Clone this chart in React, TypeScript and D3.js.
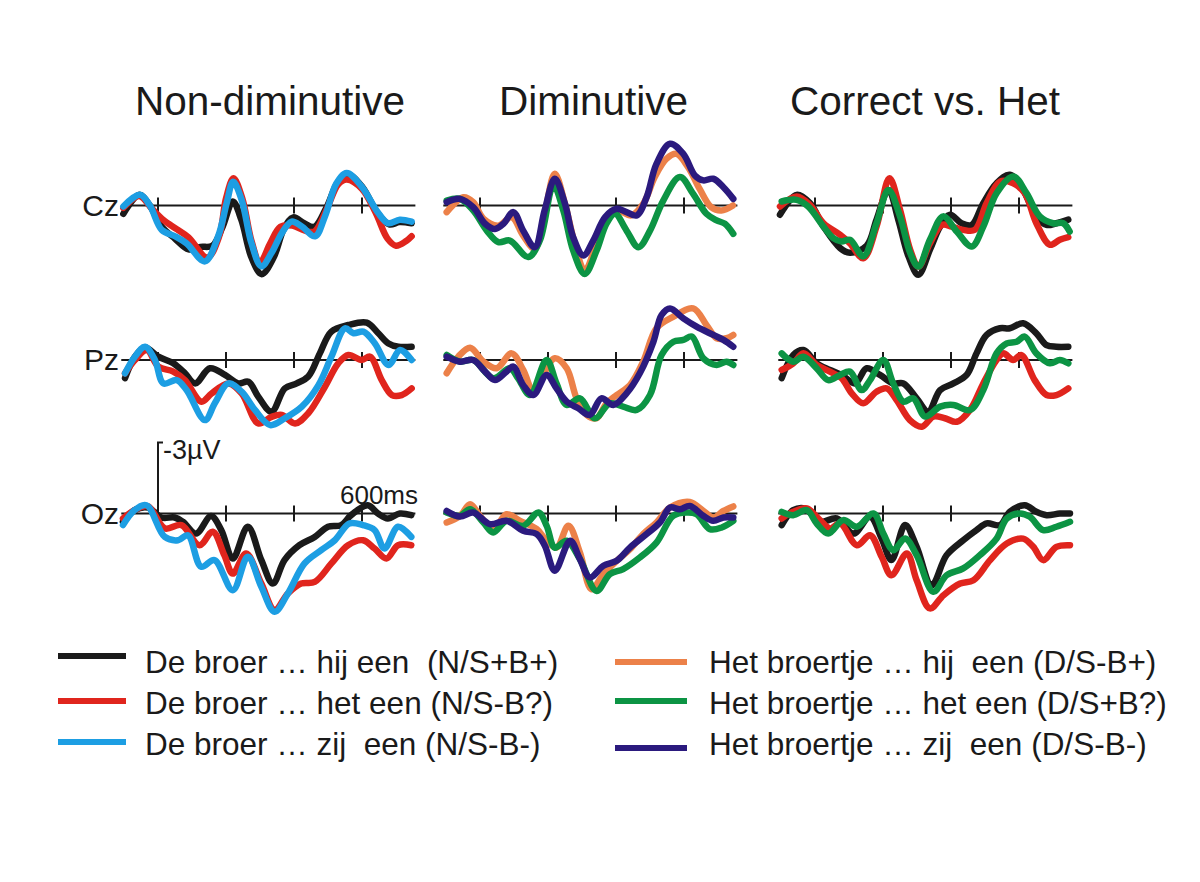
import React from "react";
import * as d3 from "d3";

type Pt = [number, number]; // [ms, µV]

// ---------- Titles / labels ----------
const COLUMN_TITLES = ["Non-diminutive", "Diminutive", "Correct vs. Het"];
const ELECTRODES = ["Cz", "Pz", "Oz"];
const TICKS_MS = [0, 200, 400, 600];

// ---------- Series ----------
const SERIES = [
  { key: "NSpBp", color: "#1a1a1a", label: "De broer … hij een  (N/S+B+)" },
  { key: "NSmBq", color: "#e0251d", label: "De broer … het een (N/S-B?)" },
  { key: "NSmBm", color: "#1d9ee3", label: "De broer … zij  een (N/S-B-)" },
  { key: "DSmBp", color: "#ec8149", label: "Het broertje … hij  een (D/S-B+)" },
  { key: "DSpBq", color: "#0c9444", label: "Het broertje … het een (D/S+B?)" },
  { key: "DSmBm", color: "#2b1a7e", label: "Het broertje … zij  een (D/S-B-)" },
];

// ---------- Non-diminutive column ----------
const ND_CZ_BLACK: Pt[] = [[-102,0.35],[-55,-0.45],[-24,0],[11,0.9],[50,1.4],[90,1.85],[125,1.75],[160,1.7],[190,0.9],[220,-0.17],[245,0.6],[275,2.2],[305,2.9],[340,2.2],[370,1.0],[398,0.5],[430,0.75],[460,0.9],[495,0.1],[530,-1.0],[560,-1.3],[600,-0.8],[645,0.3],[680,0.8],[710,0.7],[746,0.75]];
const ND_CZ_RED: Pt[] = [[-102,0.1],[-55,-0.4],[-20,0.1],[15,0.6],[55,1.0],[90,1.35],[145,2.2],[180,1.3],[200,-0.3],[222,-1.15],[248,-0.3],[275,1.5],[300,2.4],[330,1.6],[360,0.9],[395,0.85],[430,1.05],[460,1.1],[495,0.2],[530,-0.9],[555,-1.1],[600,-0.7],[640,0.3],[675,1.4],[700,1.7],[730,1.5],[746,1.3]];
const ND_CZ_BLUE: Pt[] = [[-102,0.04],[-53,-0.45],[-24,0],[11,1.03],[50,1.3],[84,1.6],[138,2.36],[177,1.3],[202,-0.1],[221,-1.0],[246,-0.24],[275,1.6],[304,2.57],[334,2.0],[364,1.17],[393,0.68],[423,0.89],[462,1.3],[491,0.46],[525,-0.94],[555,-1.37],[599,-0.8],[648,0.32],[677,0.75],[711,0.6],[746,0.68]];

const ND_PZ_BLACK: Pt[] = [[-97,0.77],[-68,-0.14],[-38,-0.53],[1,-0.14],[45,0.14],[79,0.56],[109,0.99],[153,0.35],[197,0.63],[236,0.99],[266,0.92],[295,1.55],[334,2.18],[373,1.2],[408,0.99],[442,0.7],[476,-0.28],[510,-1.2],[560,-1.48],[614,-1.58],[648,-1.13],[678,-0.7],[707,-0.56],[746,-0.56]];
const ND_PZ_RED: Pt[] = [[-97,0.56],[-68,0],[-33,-0.42],[1,0.28],[45,0.49],[79,0.85],[128,1.76],[158,1.41],[207,0.99],[246,1.41],[295,2.68],[334,2.4],[364,2.32],[403,2.68],[442,2.25],[491,1.13],[530,0.14],[560,-0.21],[599,0],[624,-0.14],[658,0.85],[688,1.48],[717,1.48],[746,1.2]];
const ND_PZ_BLUE: Pt[] = [[-97,0.56],[-68,-0.14],[-38,-0.56],[-9,0],[16,0.99],[55,0.85],[84,1.27],[138,2.54],[167,1.83],[207,0.99],[246,1.34],[285,2.11],[330,2.75],[373,2.46],[423,1.97],[472,1.06],[510,-0.14],[550,-1.34],[575,-1.13],[604,-1.2],[638,-0.7],[678,0.21],[712,-0.42],[746,0]];

const ND_OZ_BLACK: Pt[] = [[-103,0.35],[-69,-0.14],[-29,-0.25],[10,0.17],[49,0.17],[73,0.35],[112,0.85],[156,0.11],[186,0.7],[220,1.9],[264,0.56],[304,1.97],[338,2.96],[372,1.97],[416,1.34],[461,0.99],[500,0.56],[539,0.49],[568,0.07],[617,-0.35],[647,0],[676,0.21],[711,0],[745,0.07]];
const ND_OZ_RED: Pt[] = [[-103,0.21],[-69,-0.14],[-29,-0.3],[20,0.63],[69,0.49],[122,1.34],[161,0.77],[195,1.76],[220,2.54],[259,1.69],[304,2.96],[343,4.08],[382,3.38],[421,2.96],[461,2.89],[510,2.11],[559,1.34],[603,1.13],[637,1.48],[672,1.9],[706,1.34],[745,1.34]];
const ND_OZ_BLUE: Pt[] = [[-103,0.49],[-69,-0.14],[-34,-0.35],[20,0.99],[59,1.13],[88,0.92],[127,2.25],[166,1.97],[220,3.24],[264,1.83],[304,3.1],[343,4.15],[382,3.38],[431,2.11],[480,1.55],[520,1.13],[563,0.42],[603,0.49],[637,0.7],[666,1.48],[706,0.56],[745,0.99]];

// ---------- Diminutive column ----------
const D_CZ_ORANGE: Pt[] = [[-98,0.28],[-49,-0.35],[-20,-0.14],[10,0.56],[54,0.85],[93,0.49],[127,1.27],[161,1.83],[190,0.35],[220,-1.34],[250,-0.07],[279,1.62],[308,2.75],[343,1.62],[377,0.49],[406,0.21],[445,0.42],[480,-0.07],[514,-1.2],[548,-1.97],[578,-2.18],[612,-1.62],[646,-0.7],[680,0.07],[710,0.21],[744,0]];
const D_CZ_GREEN: Pt[] = [[-98,-0.21],[-59,-0.28],[-20,0.21],[20,1.06],[54,1.55],[88,1.48],[142,2.18],[176,1.48],[216,-0.85],[245,0.21],[274,1.9],[308,2.89],[343,1.9],[372,0.77],[397,0.35],[431,1.06],[466,1.76],[500,1.06],[539,-0.21],[588,-1.2],[627,-0.49],[666,0.35],[696,0.63],[720,0.77],[745,1.2]];
const D_CZ_NAVY: Pt[] = [[-98,-0.14],[-59,-0.28],[-20,0.07],[15,0.77],[44,0.99],[69,0.77],[98,0.28],[127,1.06],[161,1.76],[190,0.21],[220,-1.13],[250,-0.07],[274,1.34],[304,2.11],[333,1.48],[368,0.49],[402,0.14],[431,0.28],[461,0.42],[490,-0.35],[519,-1.76],[559,-2.61],[598,-2.18],[632,-1.27],[657,-1.06],[686,-1.13],[716,-0.77],[745,-0.28]];

const D_PZ_ORANGE: Pt[] = [[-98,0.56],[-64,-0.14],[-29,-0.52],[10,0.07],[49,0.35],[93,-0.28],[127,0.42],[157,1.34],[186,0.63],[220,-0.07],[255,0.35],[284,1.62],[314,2.32],[343,2.46],[372,1.83],[402,1.48],[441,1.06],[480,0.07],[519,-1.34],[569,-1.83],[627,-2.18],[666,-1.48],[696,-0.92],[725,-0.92],[745,-1.06]];
const D_PZ_GREEN: Pt[] = [[-98,-0.21],[-59,0.07],[-20,0],[39,0.77],[88,0.35],[112,0.77],[147,1.48],[196,0],[225,0.99],[255,1.9],[294,1.62],[338,2.46],[382,1.83],[421,1.97],[461,2.11],[500,1.48],[534,-0.21],[569,-0.77],[598,-0.85],[623,-0.99],[657,-0.07],[696,0.21],[725,0.07],[745,0.21]];
const D_PZ_NAVY: Pt[] = [[-98,-0.14],[-59,0.07],[-20,0],[15,0.49],[44,0.85],[78,0.49],[98,0.28],[127,1.06],[157,1.48],[196,0.63],[225,1.2],[255,1.76],[289,2.04],[323,2.32],[357,1.62],[392,1.9],[431,1.41],[470,0.56],[510,-0.77],[534,-1.9],[559,-2.18],[598,-1.76],[637,-1.41],[686,-1.06],[716,-0.85],[745,-0.56]];

const D_OZ_ORANGE: Pt[] = [[-98,0.38],[-59,0.1],[-29,-0.39],[0,0.1],[39,0.66],[78,0.03],[118,0.31],[167,0.66],[196,1.15],[225,1.44],[260,0.52],[294,1.65],[328,3.2],[363,2.56],[402,2.0],[441,1.51],[480,0.87],[519,0.38],[559,-0.25],[617,-0.49],[657,-0.11],[686,0.17],[716,-0.11],[745,-0.3]];
const D_OZ_GREEN: Pt[] = [[-98,-0.04],[-59,0.1],[-29,-0.18],[10,0.38],[39,0.8],[78,0.31],[127,0.52],[172,-0.04],[196,0.52],[220,1.44],[255,1.15],[294,1.93],[343,3.27],[382,2.56],[421,2.35],[470,1.86],[519,1.23],[568,0.1],[608,-0.04],[637,0.03],[676,0.66],[711,0.59],[745,0.31]];
const D_OZ_NAVY: Pt[] = [[-98,-0.11],[-59,0.13],[-20,-0.04],[29,0.45],[78,0.31],[127,0.73],[167,0.87],[191,1.37],[220,2.42],[265,1.15],[294,1.93],[323,2.7],[363,2.21],[402,2.0],[441,1.44],[490,0.87],[529,0.38],[559,-0.25],[588,-0.18],[617,-0.32],[657,0.1],[686,0.31],[716,0.17],[745,0.17]];

// ---------- Correct vs. Het column ----------
const C_CZ_BLACK: Pt[] = [[-103,0.39],[-54,-0.45],[-15,-0.1],[25,0.89],[74,1.8],[103,2.0],[152,1.7],[181,0.6],[216,-0.66],[245,0.6],[275,2.15],[304,2.93],[338,1.87],[368,0.89],[397,0.39],[431,0.75],[461,0.82],[495,-0.1],[534,-0.94],[573,-1.3],[612,-0.66],[651,0.46],[681,0.82],[710,0.75],[745,0.6]];
const C_CZ_RED: Pt[] = [[-103,0.04],[-54,-0.38],[-15,-0.03],[25,0.75],[74,1.24],[103,1.6],[142,2.23],[181,0.89],[219,-1.15],[250,0.18],[280,1.87],[304,2.58],[338,1.6],[373,0.82],[402,0.89],[436,1.03],[470,1.03],[505,-0.1],[544,-1.01],[583,-0.94],[617,-0.52],[651,0.75],[691,1.66],[720,1.45],[745,1.34]];
const C_CZ_GREEN: Pt[] = [[-98,-0.17],[-54,-0.24],[-20,0.04],[25,0.89],[54,1.38],[78,1.52],[103,1.45],[142,2.15],[181,0.75],[216,-0.66],[250,0.46],[280,2.01],[304,2.58],[338,1.45],[377,0.46],[417,1.1],[461,1.73],[495,0.89],[534,-0.52],[583,-1.23],[622,-0.52],[661,0.46],[700,0.75],[730,0.75],[749,1.1]];

const C_PZ_BLACK: Pt[] = [[-98,0.77],[-64,-0.21],[-34,-0.42],[5,0.14],[44,0.42],[78,0.63],[118,0.99],[152,0.35],[191,0.63],[230,0.99],[260,0.99],[299,1.62],[333,2.18],[368,1.27],[407,0.99],[446,0.63],[475,-0.28],[505,-1.06],[544,-1.34],[573,-1.34],[612,-1.55],[651,-1.13],[681,-0.63],[710,-0.56],[745,-0.56]];
const C_PZ_RED: Pt[] = [[-98,0.42],[-64,0.14],[-34,-0.28],[5,0.21],[44,0.49],[78,0.77],[108,1.41],[142,1.83],[181,1.34],[211,1.2],[240,1.69],[279,2.54],[314,2.82],[348,2.39],[382,2.46],[417,2.61],[456,2.11],[495,0.99],[534,0],[554,-0.28],[583,0],[607,-0.21],[646,0.85],[681,1.48],[710,1.48],[745,1.2]];
const C_PZ_GREEN: Pt[] = [[-98,-0.28],[-64,0.07],[-34,-0.14],[5,0.35],[39,0.85],[74,0.63],[103,0.49],[137,1.27],[162,0.85],[201,0],[230,0.99],[260,1.76],[289,1.62],[324,2.39],[368,1.97],[407,1.9],[456,2.11],[495,1.27],[534,-0.28],[564,-0.7],[593,-0.77],[617,-0.99],[651,-0.28],[691,0.14],[720,0],[745,0.14]];

const C_OZ_BLACK: Pt[] = [[-98,0.49],[-64,-0.14],[-29,-0.21],[15,0.35],[64,0.21],[113,0.85],[162,0.14],[196,1.06],[225,1.97],[265,0.49],[299,1.41],[343,3.03],[387,1.76],[436,1.13],[475,0.7],[505,0.42],[544,0.49],[573,-0.07],[617,-0.35],[651,-0.07],[681,0.07],[720,0],[750,0]];
const C_OZ_RED: Pt[] = [[-98,0.21],[-64,-0.07],[-24,-0.21],[15,0.28],[44,0.63],[74,0.42],[123,1.34],[162,0.92],[196,1.83],[225,2.61],[270,1.69],[299,2.82],[338,4.01],[378,3.45],[427,2.96],[466,2.82],[515,1.97],[564,1.27],[612,1.06],[642,1.41],[671,1.97],[710,1.41],[750,1.34]];
const C_OZ_GREEN: Pt[] = [[-98,-0.07],[-64,0.07],[-24,-0.14],[5,0.42],[39,0.85],[83,0.28],[123,0.56],[172,0],[201,0.85],[230,1.55],[265,1.06],[299,1.76],[348,3.31],[387,2.61],[436,2.32],[485,1.76],[534,1.06],[564,0.21],[603,0],[632,0.14],[671,0.7],[710,0.56],[750,0.35]];

// Panels: [column][row] -> list of (series index, data), drawn bottom to top
const PANELS: { s: number; d: Pt[] }[][][] = [
  [
    [{ s: 0, d: ND_CZ_BLACK }, { s: 1, d: ND_CZ_RED }, { s: 2, d: ND_CZ_BLUE }],
    [{ s: 0, d: ND_PZ_BLACK }, { s: 1, d: ND_PZ_RED }, { s: 2, d: ND_PZ_BLUE }],
    [{ s: 0, d: ND_OZ_BLACK }, { s: 1, d: ND_OZ_RED }, { s: 2, d: ND_OZ_BLUE }],
  ],
  [
    [{ s: 3, d: D_CZ_ORANGE }, { s: 4, d: D_CZ_GREEN }, { s: 5, d: D_CZ_NAVY }],
    [{ s: 3, d: D_PZ_ORANGE }, { s: 4, d: D_PZ_GREEN }, { s: 5, d: D_PZ_NAVY }],
    [{ s: 3, d: D_OZ_ORANGE }, { s: 4, d: D_OZ_GREEN }, { s: 5, d: D_OZ_NAVY }],
  ],
  [
    [{ s: 0, d: C_CZ_BLACK }, { s: 1, d: C_CZ_RED }, { s: 4, d: C_CZ_GREEN }],
    [{ s: 0, d: C_PZ_BLACK }, { s: 1, d: C_PZ_RED }, { s: 4, d: C_PZ_GREEN }],
    [{ s: 0, d: C_OZ_BLACK }, { s: 1, d: C_OZ_RED }, { s: 4, d: C_OZ_GREEN }],
  ],
];

// ---------- Layout ----------
const W = 1200;
const H = 882;
const COL_ZERO_X = [158, 480, 815];
const PX_PER_600MS = 204;
const ROW_BASE_Y = [205.5, 360, 513.5];
const PX_PER_3UV = 71;
const FONT = "'Liberation Sans', Arial, Helvetica, sans-serif";

export default function App() {
  const xScales = COL_ZERO_X.map((x0) =>
    d3.scaleLinear().domain([0, 600]).range([x0, x0 + PX_PER_600MS])
  );
  const yScales = ROW_BASE_Y.map((y0) =>
    d3.scaleLinear().domain([0, -3]).range([y0, y0 - PX_PER_3UV])
  );

  const titleX = [135, 499, 790];

  return (
    <svg
      width={W}
      height={H}
      viewBox={`0 0 ${W} ${H}`}
      style={{ position: "absolute", left: 0, top: 0, background: "#fff" }}
      fontFamily={FONT}
    >
      <rect width={W} height={H} fill="#fff" />
      {COLUMN_TITLES.map((t, i) => (
        <text key={t} x={titleX[i]} y={115} fontSize={40.5} fill="#1a1a1a">
          {t}
        </text>
      ))}
      {ELECTRODES.map((e, r) => (
        <text
          key={e}
          x={119}
          y={ROW_BASE_Y[r] + 10}
          fontSize={30}
          textAnchor="end"
          fill="#1a1a1a"
        >
          {e}
        </text>
      ))}

      {PANELS.map((col, c) =>
        col.map((panel, r) => {
          const x = xScales[c];
          const y = yScales[r];
          const line = d3
            .line<Pt>()
            .x((p) => x(p[0]))
            .y((p) => y(p[1]))
            .curve(d3.curveCatmullRom.alpha(0.5));
          const showCal = c === 0 && r === 2;
          return (
            <g key={`${c}-${r}`}>
              <line
                x1={x(-108)}
                x2={x(757)}
                y1={y(0)}
                y2={y(0)}
                stroke="#1a1a1a"
                strokeWidth={2}
              />
              {TICKS_MS.map((t) =>
                showCal && t === 0 ? null : (
                  <line
                    key={t}
                    x1={x(t)}
                    x2={x(t)}
                    y1={y(0) - 8}
                    y2={y(0) + 8}
                    stroke="#1a1a1a"
                    strokeWidth={2}
                  />
                )
              )}
              {showCal && (
                <g>
                  <path
                    d={`M${x(0) + 5},${y(-3)}H${x(0)}V${y(0)}`}
                    fill="none"
                    stroke="#1a1a1a"
                    strokeWidth={2}
                  />
                  <text x={x(0) + 5} y={y(-3) + 16} fontSize={27} fill="#1a1a1a">
                    -3µV
                  </text>
                  <text x={x(600) + 17} y={y(0) - 10} fontSize={26} textAnchor="middle" fill="#1a1a1a">
                    600ms
                  </text>
                </g>
              )}
              {panel.map((p, i) => (
                <path
                  key={i}
                  d={line(p.d) || ""}
                  fill="none"
                  stroke={SERIES[p.s].color}
                  strokeWidth={6.5}
                  strokeLinecap="round"
                  strokeLinejoin="round"
                />
              ))}
            </g>
          );
        })
      )}

      {/* Legend */}
      {SERIES.map((s, i) => {
        const leftCol = i < 3;
        const row = i % 3;
        const lineY = leftCol ? [656, 701, 742][row] : [662, 701, 748][row];
        const textY = [673, 714, 755][row];
        const lx1 = leftCol ? 58 : 615;
        const lx2 = leftCol ? 126 : 687;
        const tx = leftCol ? 145 : 709;
        return (
          <g key={s.key}>
            <line x1={lx1} x2={lx2} y1={lineY} y2={lineY} stroke={s.color} strokeWidth={6} />
            <text x={tx} y={textY} fontSize={31.5} fill="#1a1a1a" style={{ whiteSpace: "pre" }}>
              {s.label}
            </text>
          </g>
        );
      })}
    </svg>
  );
}
